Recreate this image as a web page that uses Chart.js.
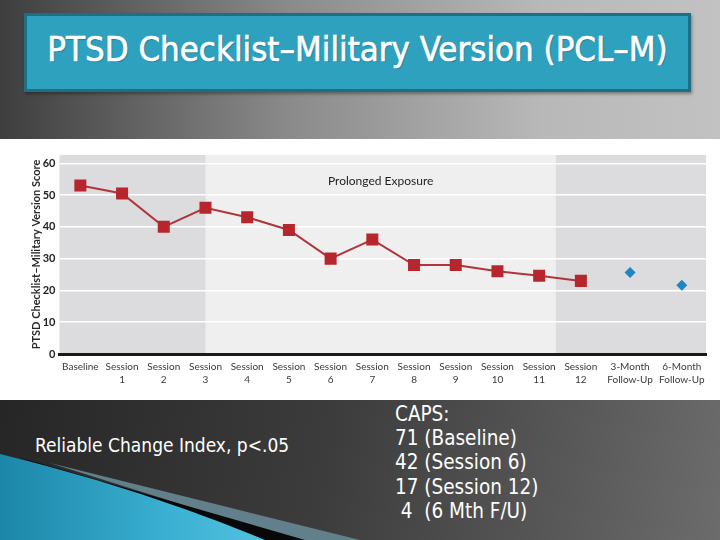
<!DOCTYPE html>
<html>
<head>
<meta charset="utf-8">
<script src="https://cdn.jsdelivr.net/npm/chart.js@4.4.1/dist/chart.umd.min.js"></script>
<style>
  html, body { margin: 0; padding: 0; }
  body { width: 720px; height: 540px; position: relative; overflow: hidden; background: #555; }
  .top-bg { position: absolute; left: 0; top: 0; width: 720px; height: 139px;
    background: linear-gradient(90deg, #3e3e3e 0%, #8a8a8a 40%, #b8b8b8 75%, #c2c2c2 100%); }
  .bottom-bg { position: absolute; left: 0; top: 400px; width: 720px; height: 140px;
    background: linear-gradient(100deg, #262626 0%, #3c3c3c 45%, #5a5a5a 80%, #6c6c6c 100%); }
  .title-box { position: absolute; left: 24px; top: 13px; width: 661px; height: 73px;
    background: #2ea1bf; border: 3px solid #1f6f84; box-shadow: 1px 2px 3px rgba(0,0,0,0.35);
    color: #fff; font-family: "DejaVu Sans Condensed", "Liberation Sans Narrow", sans-serif;
    font-size: 34.5px; line-height: 66px; text-align: center;
    -webkit-text-stroke: 0.6px #fff; text-shadow: 1px 1px 1px rgba(0,0,0,0.25); }
  .chart-wrap { position: absolute; left: 0; top: 139px; width: 720px; height: 261px; background: #fff; }
  .note { position: absolute; color: #fff; font-family: "DejaVu Sans Condensed", "Liberation Sans Narrow", sans-serif; }
  .rci { left: 35px; top: 434px; font-size: 19px; }
  .caps { left: 395px; top: 401.5px; font-size: 20.5px; line-height: 24.4px; white-space: pre; }
  svg.swoosh { position: absolute; left: 0; top: 0; }
</style>
</head>
<body>
<div class="top-bg"></div>
<div class="bottom-bg"></div>
<svg class="swoosh" width="720" height="540">
  <defs>
    <linearGradient id="teal" x1="0" y1="0" x2="1" y2="0">
      <stop offset="0" stop-color="#1b86a8"/>
      <stop offset="0.6" stop-color="#39aed0"/>
      <stop offset="1" stop-color="#52c1e0"/>
    </linearGradient>
  </defs>
  <polygon points="50,463 360,540 295,540" fill="#62808b"/>
  <polygon points="18,457 305,540 262,540" fill="#080808"/>
  <path d="M0,454 Q140,488 265,540 L0,540 Z" fill="url(#teal)"/>
</svg>
<div class="title-box">PTSD Checklist–Military Version (PCL–M)</div>
<div class="chart-wrap"><canvas id="chart"></canvas></div>
<div class="note rci">Reliable Change Index, p&lt;.05</div>
<div class="note caps">CAPS:
71 (Baseline)
42 (Session 6)
17 (Session 12)
 4  (6 Mth F/U)</div>

<script>
// time points on the x axis (sessions are evenly spaced, follow-ups further out)
const timePoints = [0, 1, 2, 3, 4, 5, 6, 7, 8, 9, 10, 11, 12, 13.18, 14.42];
const tickLabels = [
  ["Baseline", ""], ["Session", "1"], ["Session", "2"], ["Session", "3"],
  ["Session", "4"], ["Session", "5"], ["Session", "6"], ["Session", "7"],
  ["Session", "8"], ["Session", "9"], ["Session", "10"], ["Session", "11"],
  ["Session", "12"], ["3-Month", "Follow-Up"], ["6-Month", "Follow-Up"],
];
// PCL-M scores, baseline through session 12
const sessionScores = [53, 50.5, 40, 46, 43, 39, 30, 36, 28, 28, 26, 24.6, 23];
// follow-up scores
const followUpScores = [25.6, 21.6];

const yTicks = [0, 10, 20, 30, 40, 50, 60];
const yMax = 62.6;
const exposureStart = 3;
const exposureEnd = 11.4;
const exposureLabel = "Prolonged Exposure";

const sessionPoints = sessionScores.map((v, i) => ({ x: timePoints[i], y: v }));
const followUpPoints = followUpScores.map((v, i) => ({ x: timePoints[sessionScores.length + i], y: v }));

// shaded phases + phase label behind the grid
const phaseShading = {
  id: "phaseShading",
  beforeDraw(chart) {
    const { ctx, chartArea: a, scales } = chart;
    const x1 = scales.x.getPixelForValue(exposureStart);
    const x2 = scales.x.getPixelForValue(exposureEnd);
    ctx.save();
    ctx.fillStyle = "#dcdcde";
    ctx.fillRect(a.left, a.top, a.right - a.left, a.bottom - a.top);
    ctx.fillStyle = "#efefef";
    ctx.fillRect(x1, a.top, x2 - x1, a.bottom - a.top);
    ctx.fillStyle = "#1e1e1e";
    ctx.font = "12px Lato, sans-serif";
    ctx.textAlign = "center";
    ctx.textBaseline = "middle";
    ctx.fillText(exposureLabel, (x1 + x2) / 2, scales.y.getPixelForValue(54.5));
    ctx.restore();
  },
};

new Chart(document.getElementById("chart"), {
  type: "scatter",
  data: {
    datasets: [
      {
        label: "Session",
        data: sessionPoints,
        showLine: true,
        borderColor: "#b0353a",
        borderWidth: 2,
        backgroundColor: "#b8262d",
        pointStyle: "rect",
        pointRadius: 8.5,
        pointBorderWidth: 0,
      },
      {
        label: "Follow-Up",
        data: followUpPoints,
        showLine: false,
        backgroundColor: "#1f86c6",
        pointStyle: "rectRot",
        pointRadius: 5.5,
        pointBorderWidth: 0,
      },
    ],
  },
  options: {
    responsive: true,
    maintainAspectRatio: false,
    animation: false,
    layout: { padding: { top: 16, right: 14, left: 0, bottom: 0 } },
    plugins: {
      legend: { display: false },
      tooltip: { enabled: false },
    },
    scales: {
      x: {
        type: "linear",
        min: -0.5,
        max: 15,
        afterBuildTicks: (s) => { s.ticks = timePoints.map((v) => ({ value: v })); },
        afterFit: (s) => { s.height = 46; },
        grid: { display: false, drawTicks: false },
        border: { display: true, color: "#1a1a1a", width: 3 },
        ticks: {
          autoSkip: false,
          maxRotation: 0,
          padding: 6,
          color: "#3a3a3a",
          font: { family: "Lato, sans-serif", size: 10, lineHeight: 1.3 },
          callback: (v, i) => tickLabels[i],
        },
      },
      y: {
        min: 0,
        max: yMax,
        afterBuildTicks: (s) => { s.ticks = yTicks.map((v) => ({ value: v })); },
        afterFit: (s) => { s.width = 59.5; },
        grid: {
          drawTicks: false,
          color: (c) => (c.tick && c.tick.value === 0 ? "rgba(0,0,0,0)" : "#ffffff"),
          lineWidth: 1.5,
        },
        border: { display: false },
        ticks: {
          padding: 4,
          color: "#222",
          font: { family: "Lato, sans-serif", size: 11, weight: "bold" },
        },
        title: {
          display: true,
          text: "PTSD Checklist–Military Version Score",
          color: "#2a2a2a",
          font: { family: "Lato, sans-serif", size: 11, weight: "bold", lineHeight: 1.2 },
          padding: { top: 30, bottom: 0 },
        },
      },
    },
  },
  plugins: [phaseShading],
});
</script>
</body>
</html>
